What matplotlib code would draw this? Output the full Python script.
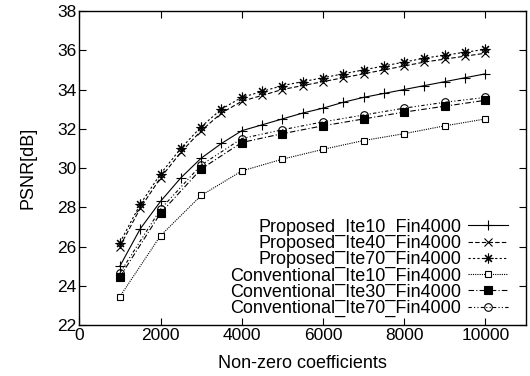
import matplotlib
matplotlib.use("Agg")
import matplotlib.pyplot as plt

plt.rcParams['font.family'] = ['Liberation Sans', 'DejaVu Sans']

x_prop = [1000, 1500, 2000, 2500, 3000, 3500, 4000, 4500, 5000, 5500,
          6000, 6500, 7000, 7500, 8000, 8500, 9000, 9500, 10000]
x_conv = [1000, 2000, 3000, 4000, 5000, 6000, 7000, 8000, 9000, 10000]

prop_ite10 = [25.0, 26.9, 28.3, 29.5, 30.5, 31.25, 31.9, 32.2, 32.5, 32.8,
              33.05, 33.35, 33.6, 33.8, 34.0, 34.2, 34.4, 34.6, 34.8]
prop_ite40 = [26.0, 27.95, 29.5, 30.8, 31.9, 32.8, 33.4, 33.7, 34.0, 34.2,
              34.4, 34.6, 34.8, 35.0, 35.2, 35.4, 35.55, 35.7, 35.85]
prop_ite70 = [26.2, 28.15, 29.7, 31.0, 32.1, 33.0, 33.6, 33.9, 34.2, 34.4,
              34.6, 34.8, 35.0, 35.2, 35.4, 35.6, 35.75, 35.9, 36.05]
conv_ite10 = [23.45, 26.55, 28.6, 29.85, 30.45, 30.95, 31.4, 31.75, 32.15, 32.5]
conv_ite30 = [24.45, 27.7, 29.95, 31.3, 31.75, 32.15, 32.5, 32.85, 33.15, 33.45]
conv_ite70 = [24.65, 27.9, 30.15, 31.5, 31.95, 32.35, 32.7, 33.05, 33.35, 33.6]

labels = ["Proposed_Ite10_Fin4000", "Proposed_Ite40_Fin4000", "Proposed_Ite70_Fin4000",
          "Conventional_Ite10_Fin4000", "Conventional_Ite30_Fin4000", "Conventional_Ite70_Fin4000"]

x_ticks = [0, 2000, 4000, 6000, 8000, 10000]
y_ticks = [22, 24, 26, 28, 30, 32, 34, 36, 38]

fig = plt.figure(figsize=(5.3, 3.76), dpi=100)
ax = fig.add_axes([0.1496, 0.1356, 0.9925 - 0.1496, 0.9707 - 0.1356])

lw = 0.8
ax.plot(x_prop, prop_ite10, color='black', lw=lw, ls='-', marker='+', ms=7, mew=0.8, label=labels[0])
ax.plot(x_prop, prop_ite40, color='black', lw=lw, ls=(0, (4, 2)), marker='x', ms=6, mew=0.8, label=labels[1])
ax.plot(x_prop, prop_ite70, color='black', lw=lw, ls=(0, (2, 2)), marker=(8, 2, 0), ms=7, mew=0.8, label=labels[2])
ax.plot(x_conv, conv_ite10, color='black', lw=lw, ls=(0, (1, 1)), marker='s', ms=5, mew=0.8,
        mfc='white', label=labels[3])
ax.plot(x_conv, conv_ite30, color='black', lw=lw, ls=(0, (5, 2, 1, 2)), marker='s', ms=5.5, mew=0.8,
        mfc='black', label=labels[4])
ax.plot(x_conv, conv_ite70, color='black', lw=lw, ls=(0, (3, 2, 1, 2, 1, 2)), marker='o', ms=5.5, mew=0.8,
        mfc='none', label=labels[5])

ax.set_xlim(0, 11000)
ax.set_ylim(22, 38)
ax.set_xticks(x_ticks)
ax.set_yticks(y_ticks)
ax.tick_params(direction='in', top=True, right=True, length=5, width=0.8,
               labelsize=12.5, pad=2, colors='black')
for s in ax.spines.values():
    s.set_linewidth(1.0)

ax.set_xlabel("Non-zero coefficients", fontsize=13, labelpad=9)
ax.set_ylabel("PSNR[dB]", fontsize=13, labelpad=15)

leg = ax.legend(loc='lower right', bbox_to_anchor=(0.96, 0.025), frameon=False, markerfirst=False,
                fontsize=13, labelspacing=-0.05, handlelength=2.2, handletextpad=0.4,
                borderpad=0, borderaxespad=0)

fig.savefig("out.png", dpi=100)
